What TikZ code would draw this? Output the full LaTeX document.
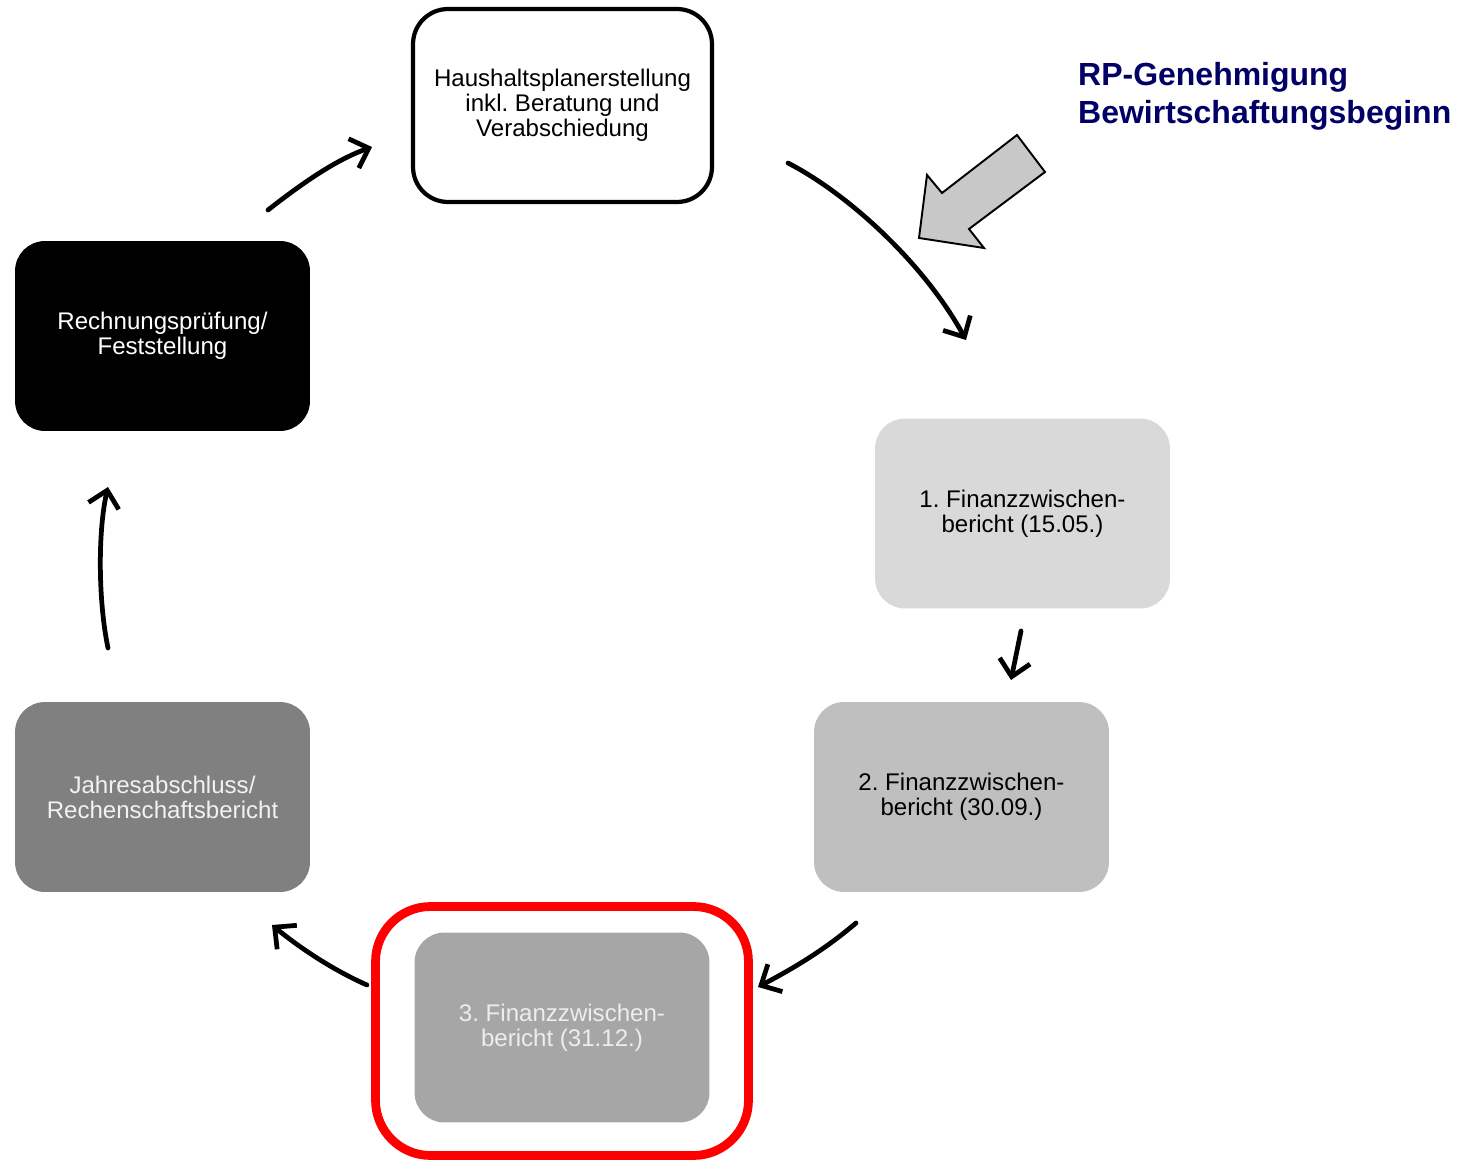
\documentclass[tikz,border=0pt]{standalone}
\usepackage{fontspec}
\setmainfont{Liberation Sans}
\usetikzlibrary{arrows.meta}
\definecolor{rpblue}{HTML}{000066}
\definecolor{stepone}{HTML}{D9D9D9}
\definecolor{steptwo}{HTML}{BFBFBF}
\definecolor{stepthree}{HTML}{A6A6A6}
\definecolor{stepfour}{HTML}{808080}
\definecolor{hintgray}{HTML}{C8C8C8}
\frenchspacing
\tikzset{
	phase/.style={rounded corners=0.6cm, minimum width=5.9cm, minimum height=3.8cm,
		align=center, font=\fontsize{13.7}{14.3}\selectfont},
	flow/.style={line width=2.7pt, line cap=round, -{Straight Barb[length=3.2mm,width=6.2mm]}}
}

\begin{document}
\begin{tikzpicture}[x=0.02cm, y=-0.02cm]
		%%%%% START %%%%%
		\useasboundingbox (0, 0) rectangle (1461, 1163);
		
		\node[phase, draw=black, line width=2.4pt, fill=white, minimum width=5.98cm, minimum height=3.86cm, rounded corners=0.7cm] (plan) at (562.5, 105.5) {Haushaltsplanerstellung\\inkl. Beratung und\\Verabschiedung};
		\node[phase, fill=black, text=white] (pruef) at (162.5, 336) {Rechnungsprüfung/\\Feststellung};
		\node[phase, fill=stepone] (fzb1) at (1022.5, 513.5) {1. Finanzzwischen-\\bericht (15.05.)};
		\node[phase, fill=steptwo] (fzb2) at (961.5, 797) {2. Finanzzwischen-\\bericht (30.09.)};
		\node[phase, fill=stepthree, text=white!93!black] (fzb3) at (562, 1027.5) {3. Finanzzwischen-\\bericht (31.12.)};
		\node[phase, fill=stepfour, text=white!95!black] (jahr) at (162.5, 797) {Jahresabschluss/\\Rechenschaftsbericht};
		
		\node[draw=red, line width=5pt, rounded corners=1.1cm, minimum width=7.46cm, minimum height=4.98cm] (mark) at (562, 1031) {};
		
		\node[anchor=base west, align=left, text=rpblue, font=\fontsize{18.2}{21.5}\selectfont\bfseries] (title) at (1072, 123) {RP-Genehmigung\\Bewirtschaftungsbeginn};
		
		\draw[fill=hintgray, line width=1.1pt, line join=miter] (1017, 135) -- (1045, 172) -- (969, 229) -- (984, 248) -- (919, 238) -- (927, 175) -- (942, 193) -- cycle;
		
		\coordinate (a1) at (268, 210);
		\coordinate (b1) at (372, 147);
		\coordinate (a2) at (788, 163);
		\coordinate (b2) at (966, 340);
		\coordinate (a3) at (1021, 631);
		\coordinate (b3) at (1011, 680);
		\coordinate (a4) at (856, 923);
		\coordinate (b4) at (758, 987);
		\coordinate (a5) at (367, 985);
		\coordinate (b5) at (272, 925);
		\coordinate (a6) at (108, 648);
		\coordinate (b6) at (108, 487);
		
		\draw[flow] (a1) .. controls (300, 185) and (335, 160) .. (b1);
		\draw[flow] (a2) .. controls (850, 195) and (925, 265) .. (b2);
		\draw[flow] (a3) -- (b3);
		\draw[flow] (a4) .. controls (822, 952) and (790, 970) .. (b4);
		\draw[flow] (a5) .. controls (333, 970) and (300, 948) .. (b5);
		\draw[flow] (a6) .. controls (98, 600) and (98, 530) .. (b6);
		
		%%%%% END %%%%%
	\end{tikzpicture}
\end{document}
